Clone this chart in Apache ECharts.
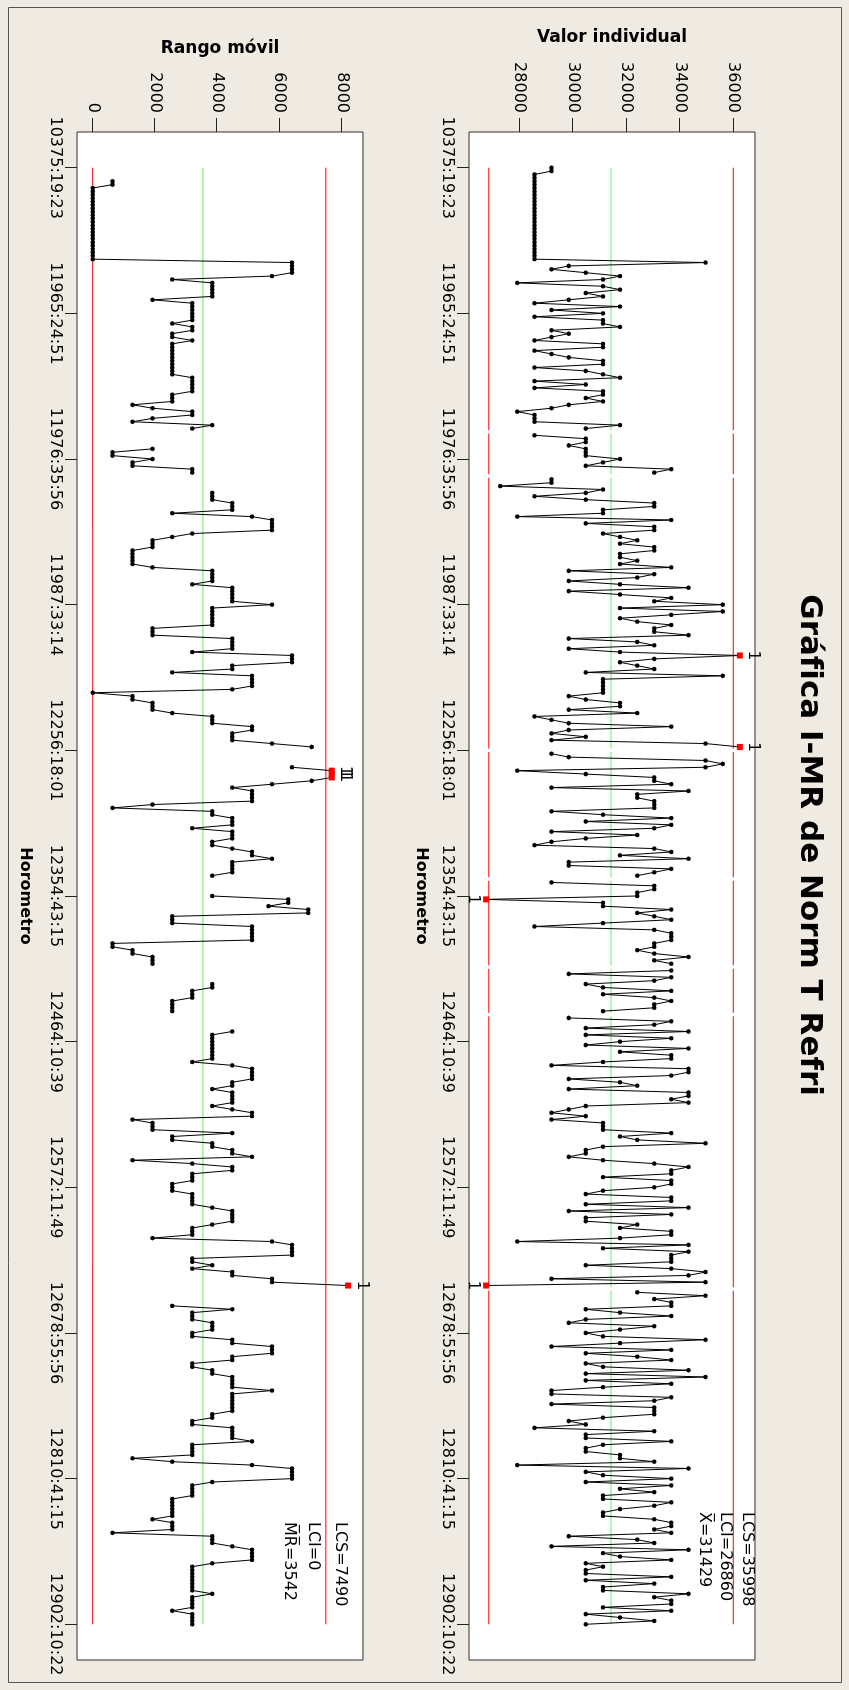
<!DOCTYPE html>
<html lang="es">
<head>
<meta charset="utf-8">
<title>Gráfica I-MR de Norm T Refri</title>
<script src="https://cdn.jsdelivr.net/npm/echarts@6/dist/echarts.min.js"></script>
<style>
  html, body { margin:0; padding:0; width:849px; height:1690px; overflow:hidden; background:#EFEBE2; }
  /* the chart is laid out landscape, then turned a quarter turn clockwise */
  #chart { position:absolute; left:0; top:0; width:1690px; height:849px;
           transform-origin:0 0; transform:translate(849px,0) rotate(90deg); }
</style>
</head>
<body>
<div id="chart"></div>
<script>
const FONT = 'DejaVu Sans';

// observation numbers that carry a Horometro label, and the labels themselves
const tickObs = [0, 43, 86, 129, 172, 215, 258, 301, 344, 387, 430];
const tickLabels = ['10375:19:23', '11965:24:51', '11976:35:56', '11987:33:14', '12256:18:01',
  '12354:43:15', '12464:10:39', '12572:11:49', '12678:55:56', '12810:41:15', '12902:10:22'];

// individual values (null = missing observation)
const individual = [
29205,29205,28565,28565,28565,28565,28565,28565,28565,28565,
28565,28565,28565,28565,28565,28565,28565,28565,28565,28565,
28565,28565,28565,28565,28565,28565,28565,28565,34965,29845,
29205,30485,31765,31125,27925,31125,31765,30485,31125,29845,
28565,31765,29205,31125,28565,31125,31125,31765,29205,29845,
29205,28565,31125,31125,28565,29205,29845,31125,31125,28565,
30485,31125,31765,28565,30485,28565,31125,31125,30485,31125,
29845,29205,27925,28565,28565,28565,31765,30485,null,28565,
30485,30485,29845,30485,30485,30485,31765,31125,30485,33685,
33045,null,29205,29205,27285,31125,30485,28565,30485,33045,
33045,31125,31125,27925,33685,30485,33045,33045,31125,31765,
32405,31765,33045,33045,31765,31765,32405,31765,33685,29845,
33045,32405,29845,31765,34325,29845,31765,33685,33045,35605,
31765,35605,33685,31765,32405,33685,33045,33045,34325,29845,
32405,33045,29845,31765,36245,33045,31765,32405,33045,30485,
35605,31125,31125,31125,31125,31125,29845,30485,31765,31765,
29845,32405,28565,29205,29845,33685,29845,29205,30485,29205,
34965,36245,null,29205,29845,34965,35605,34965,27925,30485,
33045,33045,33685,29205,34325,32405,32405,33045,33045,33045,
29205,31125,33685,30485,33685,33045,29205,32405,30485,29205,
28565,33045,33685,31765,34325,29845,29845,33685,33045,32405,
null,29205,33045,33045,32405,32405,26760,31125,31125,33685,
32405,33045,33685,31125,28565,33045,33685,33685,33685,33045,
33045,32405,33045,34325,33045,33685,null,33685,29845,33685,
33045,30485,31125,33685,31125,33045,33685,33045,33045,31125,
null,29845,33685,33045,30485,34325,30485,33685,31765,30485,
34325,31765,33685,33685,31125,29205,34325,34325,33685,29845,
31765,32405,29845,34325,34325,33685,34325,30485,29845,29205,
30485,29205,31125,31125,31125,33685,31765,32405,34965,31125,
30485,30485,29845,31125,33045,34325,33685,33685,31125,33685,
33685,33045,31125,30485,33685,33685,30485,34325,29845,33685,
30485,30485,32405,31765,33685,33685,31765,27925,34325,31125,
34325,33685,33685,33685,30485,33685,34965,34325,29205,34965,
26760,null,32405,34965,33045,33685,33685,30485,31765,33685,
30485,29845,33045,31765,30485,31125,34965,31765,29205,33685,
30485,32405,33685,30485,31125,34325,30485,34965,30485,33685,
31125,29205,29205,33685,33045,29205,33045,33045,33045,31125,
29845,30485,28565,33045,30485,30485,33685,31125,30485,30485,
31765,31765,33045,27925,34325,30485,31125,33685,30485,33685,
31765,33045,31125,31125,33685,33045,31765,31125,31125,33045,
33685,33685,33045,33685,29845,32405,33045,29205,34325,31125,
31765,33685,30485,31125,30485,30485,33685,30485,33045,31125,
31125,34325,33045,33685,33685,31125,33685,30485,31765,33045,
30485
];

// moving ranges (null where no range is plotted)
const movingRange = [
null,null,null,null,640,640,0,0,0,0,
0,0,0,0,0,0,0,0,0,0,
0,0,0,0,0,0,0,0,6400,6400,
6400,6400,5760,2560,3840,3840,3840,3840,3840,1920,
3200,3200,3200,3200,3200,3200,2560,3200,3200,2560,
2560,3200,2560,2560,2560,2560,2560,2560,2560,2560,
2560,2560,3200,3200,3200,3200,3200,2560,2560,2560,
1280,1920,3200,3200,1920,1280,3840,3200,null,null,
null,null,null,1920,640,640,1920,1280,1280,3200,
3200,null,null,null,null,null,3840,3840,3840,4480,
4480,4480,2560,5120,5760,5760,5760,5760,3200,2560,
1920,1920,1920,1280,1280,1280,1280,1280,1920,3840,
3840,3840,3840,3200,4480,4480,4480,4480,4480,5760,
3840,3840,3840,3840,3840,3840,1920,1920,1920,4480,
4480,4480,4480,3200,6400,6400,6400,4480,4480,2560,
5120,5120,5120,5120,4480,0,1280,1280,1920,1920,
1920,2560,3840,3840,3840,5120,5120,4480,4480,4480,
5760,7040,null,null,null,null,null,6400,7680,7680,
7680,7040,5760,4480,5120,5120,5120,5120,1920,640,
3840,3840,4480,4480,4480,3200,4480,4480,4480,3840,
3840,4480,5120,5120,5760,4480,4480,4480,4480,3840,
null,null,null,null,null,3840,6285,6285,5645,6925,
6925,2560,2560,2560,5120,5120,5120,5120,5120,640,
640,1280,1280,1920,1920,1920,null,null,null,null,
null,3840,3840,3200,3200,3200,2560,2560,2560,2560,
null,null,null,null,null,4480,3840,3840,3840,3840,
3840,3840,3840,3840,3200,4480,5120,5120,5120,5120,
4480,4480,3840,4480,4480,4480,4480,3840,4480,5120,
5120,1280,1920,1920,1920,4480,2560,2560,3840,3840,
4480,4480,5120,1280,3200,4480,4480,3200,3200,3200,
2560,2560,2560,3200,3200,3200,3200,3840,4480,4480,
4480,4480,3840,3200,3200,3200,1920,5760,6400,6400,
6400,6400,3200,3200,3840,3200,4480,4480,5760,5760,
8205,null,null,null,null,null,2560,4480,3200,3200,
3200,3840,3840,3840,3200,3200,4480,4480,5760,5760,
5760,4480,4480,3200,3200,3840,3840,4480,4480,4480,
4480,5760,4480,4480,4480,4480,4480,4480,3840,3840,
3200,3200,4480,4480,4480,4480,5120,3200,3200,3200,
3200,1280,2560,5120,6400,6400,6400,6400,3840,3200,
3200,3200,3200,2560,2560,2560,2560,2560,2560,1920,
2560,2560,2560,640,3840,3840,3840,4480,5120,5120,
5120,5120,3840,3200,3200,3200,3200,3200,3200,3200,
3200,3840,3200,3200,3200,3200,2560,3200,3200,3200,
3200
];

// control limits: upper, centre, lower
const iLimits = [35998, 31429, 26860];
const mrLimits = [7490, 3542, 0];

// value-axis tick labels
const iTicks = [28000, 30000, 32000, 34000, 36000];
const mrTicks = [0, 2000, 4000, 6000, 8000];

const RED = '#ff0000', GREEN = '#66ee66', INK = '#000000';
const lastObs = individual.length - 1;

// points: black dots, out-of-limit points as red squares tagged with test "1"
function pointData(vals, ucl, lcl) {
  return vals.map(function (v, i) {
    if (v == null) return [i, '-'];
    const hi = v > ucl, lo = v < lcl;
    if (!hi && !lo) return [i, v];
    return {
      value: [i, v], symbol: 'rect', symbolSize: 6,
      itemStyle: { color: RED },
      label: { show: true, formatter: '1', position: hi ? 'top' : 'bottom', distance: 3,
               color: INK, fontFamily: FONT, fontSize: 15 }
    };
  });
}

// a limit drawn per observation, broken where an observation is missing
function brokenLevel(vals, level) {
  const pts = [];
  let start = -1;
  for (let i = 0; i <= vals.length; i++) {
    const present = i < vals.length && vals[i] != null;
    if (present && start < 0) start = i;
    if (!present && start >= 0) {
      pts.push([Math.max(start - 0.5, 0), level], [Math.min(i - 0.5, lastObs), level]);
      if (i < vals.length) pts.push([i, '-']);
      start = -1;
    }
  }
  return pts;
}

function limitSeries(axis, data, color) {
  return { type: 'line', xAxisIndex: axis, yAxisIndex: axis, data: data, symbol: 'none',
           lineStyle: { color: color, width: 1 }, silent: true, z: 1, emphasis: { disabled: true } };
}

function dataSeries(axis, data) {
  return { type: 'line', xAxisIndex: axis, yAxisIndex: axis, data: data,
           symbol: 'circle', symbolSize: 4.5, itemStyle: { color: INK },
           lineStyle: { color: INK, width: 1 }, z: 3, emphasis: { disabled: true } };
}

function xAxis(grid, nameGap) {
  return {
    type: 'value', gridIndex: grid, min: -10.54, max: lastObs + 10.54, position: 'bottom',
    name: 'Horometro', nameLocation: 'middle', nameGap: nameGap,
    nameTextStyle: { fontFamily: FONT, fontSize: 16, fontWeight: 'bold', color: INK },
    axisLine: { show: false, onZero: false }, splitLine: { show: false },
    axisTick: { show: true, inside: false, length: 12, customValues: tickObs, lineStyle: { color: '#222' } },
    axisLabel: { show: true, customValues: tickObs, margin: 14, fontFamily: FONT, fontSize: 16, color: INK,
                 formatter: function (v) { return tickLabels[tickObs.indexOf(Math.round(v))]; } }
  };
}

function yAxis(grid, min, max, ticks, name, nameGap) {
  return {
    type: 'value', gridIndex: grid, min: min, max: max, position: 'left',
    name: name, nameLocation: 'middle', nameGap: nameGap, nameRotate: 90,
    nameTextStyle: { fontFamily: FONT, fontSize: 17, fontWeight: 'bold', color: INK },
    axisLine: { show: false, onZero: false }, splitLine: { show: false },
    axisTick: { show: true, inside: false, length: 14, customValues: ticks, lineStyle: { color: '#222' } },
    axisLabel: { show: true, customValues: ticks, margin: 19, fontFamily: FONT, fontSize: 16, color: INK,
                 formatter: function (v) { return String(v); } }
  };
}

function limitText(x, y, text) {
  return { type: 'text', x: x, y: y, z: 10,
           style: { text: text, fill: INK, font: '16px "DejaVu Sans"', align: 'left', verticalAlign: 'middle' } };
}

const chart = echarts.init(document.getElementById('chart'), null, { width: 1690, height: 849 });

chart.setOption({
  backgroundColor: '#EFEBE2',
  animation: false,
  title: {
    text: 'Gráfica I-MR de Norm T Refri', left: 'center', top: 24, padding: 0,
    textStyle: { fontFamily: FONT, fontSize: 31, fontWeight: 'bold', color: INK }
  },
  grid: [
    { left: 132, top: 94, width: 1528, height: 286, show: true, backgroundColor: '#ffffff',
      borderColor: '#333333', borderWidth: 1, containLabel: false },
    { left: 132, top: 486, width: 1528, height: 286, show: true, backgroundColor: '#ffffff',
      borderColor: '#333333', borderWidth: 1, containLabel: false }
  ],
  xAxis: [xAxis(0, 40), xAxis(1, 44)],
  yAxis: [
    yAxis(0, 26120, 36811, iTicks, 'Valor individual', 86),
    yAxis(1, -504, 8684, mrTicks, 'Rango móvil', 75)
  ],
  series: [
    limitSeries(0, brokenLevel(individual, iLimits[0]), RED),
    limitSeries(0, brokenLevel(individual, iLimits[1]), GREEN),
    limitSeries(0, brokenLevel(individual, iLimits[2]), RED),
    dataSeries(0, pointData(individual, iLimits[0], iLimits[2])),
    limitSeries(1, [[0, mrLimits[0]], [lastObs, mrLimits[0]]], RED),
    limitSeries(1, [[0, mrLimits[1]], [lastObs, mrLimits[1]]], GREEN),
    limitSeries(1, [[0, mrLimits[2]], [lastObs, mrLimits[2]]], RED),
    dataSeries(1, pointData(movingRange, mrLimits[0], -Infinity))
  ],
  graphic: [
    { type: 'rect', z: -1, silent: true, shape: { x: 7.5, y: 7.5, width: 1675, height: 833 },
      style: { fill: 'none', stroke: '#555555', lineWidth: 1 } },
    limitText(1512, 101.5, 'LCS=' + iLimits[0]),
    limitText(1512, 123.5, 'LCI=' + iLimits[2]),
    limitText(1512, 144.5, 'X\u0305=' + iLimits[1]),
    limitText(1522, 509, 'LCS=' + mrLimits[0]),
    limitText(1522, 535.5, 'LCI=' + mrLimits[2]),
    limitText(1522, 559.5, 'M\u0305R\u0305=' + mrLimits[1])
  ]
});
</script>
</body>
</html>
